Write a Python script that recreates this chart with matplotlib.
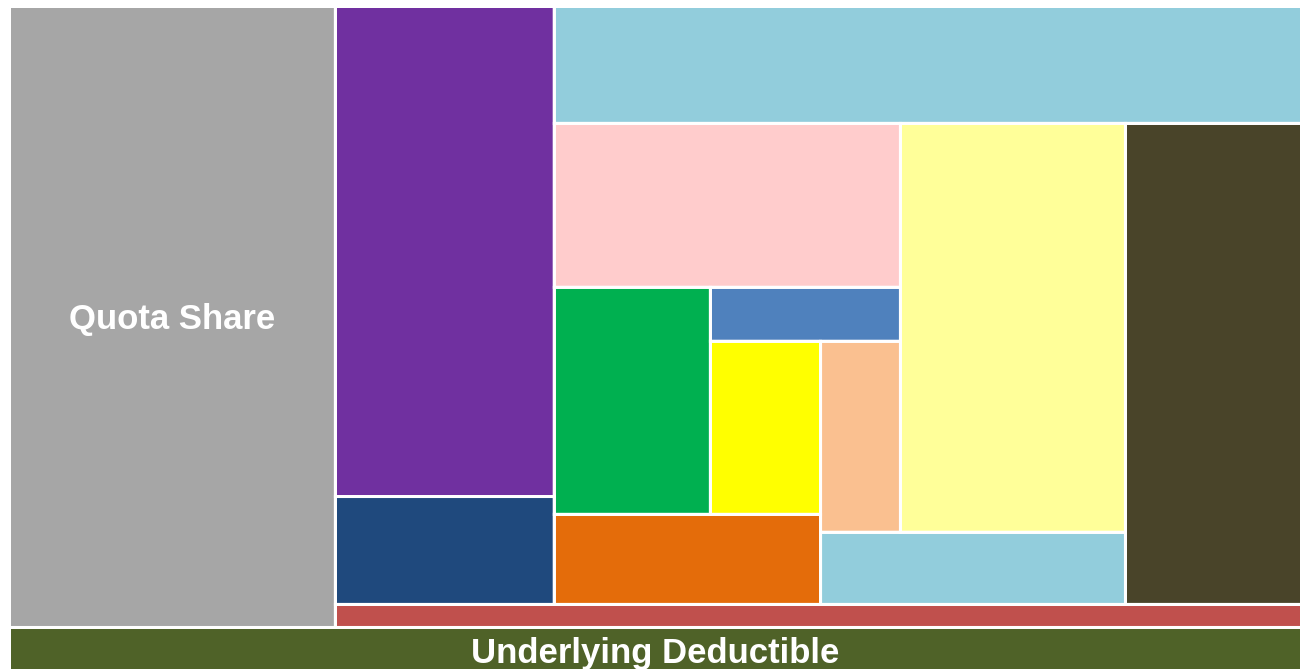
import numpy as np
import matplotlib
matplotlib.use("Agg")
import matplotlib.pyplot as plt
from matplotlib.patches import Rectangle

# Share of the programme (percent) for each layer/participant
labels = ["Underlying Deductible", "Quota Share", "", "", "", "", "",
          "", "", "", "", "", "", "", ""]
values = [6.97, 23.47, 2.58, 12.44, 2.74, 10.13, 9.82,
          6.58, 10.67, 2.55, 2.78, 4.11, 1.19, 2.21, 1.77]
colors = ["#4F6228", "#A6A6A6", "#C0504D", "#7030A0", "#1F497D", "#92CDDC", "#494429",
          "#FFCCCC", "#FFFF99", "#92CDDC", "#E46C0A", "#00B050", "#4F81BD", "#FFFF00", "#FAC090"]

# Spiral layout: strips peeled off the remaining rectangle, then a pinwheel core
strip_plan = [("bottom", [0]), ("left", [1]), ("bottom", [2]), ("left", [3, 4]),
              ("top", [5]), ("right", [6])]
pinwheel_items = [7, 8, 9, 10, 11, 12, 13, 14]

W_PX, H_PX = 1305, 669
frame = (9.5, 6.5, 1301.5, 674.0)   # x0, y0 (top), x1, y1 (bottom)

fig = plt.figure(figsize=(W_PX / 100, H_PX / 100), dpi=100)
ax = fig.add_axes([0, 0, 1, 1])
ax.set_xlim(0, W_PX)
ax.set_ylim(H_PX, 0)
ax.axis("off")

area_scale = (frame[2] - frame[0]) * (frame[3] - frame[1]) / sum(values)
areas = [v * area_scale for v in values]
rects = [None] * len(values)


def strip(rect, side, idx):
    x0, y0, x1, y1 = rect
    a = sum(areas[i] for i in idx)
    out = []
    if side in ("top", "bottom"):
        t = a / (x1 - x0)
        by0, by1 = (y0, y0 + t) if side == "top" else (y1 - t, y1)
        cx = x0
        for i in idx:
            w = areas[i] / t
            out.append((i, (cx, by0, cx + w, by1)))
            cx += w
        rest = (x0, by1, x1, y1) if side == "top" else (x0, y0, x1, by0)
    else:
        t = a / (y1 - y0)
        bx0, bx1 = (x0, x0 + t) if side == "left" else (x1 - t, x1)
        cy = y0
        for i in idx:
            h = areas[i] / t
            out.append((i, (bx0, cy, bx1, cy + h)))
            cy += h
        rest = (bx1, y0, x1, y1) if side == "left" else (x0, y0, bx0, y1)
    return out, rest


def pinwheel(rect, idx):
    X0, Y0, X1, Y1 = rect
    pk, ly, lb, og, gr, st, ye, pe = [areas[i] for i in idx]

    def geom(xc):
        yd = Y0 + ly / (X1 - xc)
        if not yd < Y1:
            return None
        xb = X1 - lb / (Y1 - yd)
        if not X0 < xb < xc:
            return None
        yc = Y1 - og / (xb - X0)
        ya = Y0 + pk / (xc - X0)
        if not ya < yc < yd:
            return None
        xa = X0 + gr / (yc - ya)
        if not xa < xb:
            return None
        yb = ya + st / (xc - xa)
        if not yb < yc:
            return None
        return (xa, xb, xc, ya, yb, yc, yd), (xb - xa) * (yc - yb) - ye

    grid = np.linspace(X0 + 1, X1 - 1, 4000)
    best = None
    prev = None
    for xc in grid:
        g = geom(xc)
        if g is None:
            prev = None
            continue
        if prev is not None and np.sign(prev[1]) != np.sign(g[1]):
            lo, hi = prev[0], xc
            for _ in range(60):
                mid = 0.5 * (lo + hi)
                gm = geom(mid)
                if gm is None:
                    break
                if np.sign(gm[1]) == np.sign(geom(lo)[1]):
                    lo = mid
                else:
                    hi = mid
            root = 0.5 * (lo + hi)
            if best is None:
                best = root
        prev = (xc, g[1])
    (xa, xb, xc, ya, yb, yc, yd), _ = geom(best)
    p, l, b, o, g, s, y, e = idx
    return [(p, (X0, Y0, xc, ya)), (l, (xc, Y0, X1, yd)), (b, (xb, yd, X1, Y1)),
            (o, (X0, yc, xb, Y1)), (g, (X0, ya, xa, yc)), (s, (xa, ya, xc, yb)),
            (y, (xa, yb, xb, yc)), (e, (xb, yb, xc, yd))]


remaining = frame
for side, idx in strip_plan:
    placed, remaining = strip(remaining, side, idx)
    for i, r in placed:
        rects[i] = r
for i, r in pinwheel(remaining, pinwheel_items):
    rects[i] = r

edge_lw = 3 * 72 / 100
for (x0, y0, x1, y1), c in zip(rects, colors):
    ax.add_patch(Rectangle((x0, y0), x1 - x0, y1 - y0, facecolor=c,
                           edgecolor="none", snap=False))
for (x0, y0, x1, y1) in rects:
    ax.add_patch(Rectangle((x0, y0), x1 - x0, y1 - y0, fill=False, snap=False,
                           edgecolor="white", linewidth=edge_lw, joinstyle="miter"))

fs = 25
fs_px = fs * 100 / 72
for (x0, y0, x1, y1), lab in zip(rects, labels):
    if lab:
        cy = 0.5 * (y0 + y1)
        ax.text(0.5 * (x0 + x1), cy + 0.36 * fs_px, lab, ha="center", va="baseline",
                color="white", fontsize=fs, fontweight="bold",
                family=["Liberation Sans", "DejaVu Sans"])

fig.savefig("out.png", dpi=100)
